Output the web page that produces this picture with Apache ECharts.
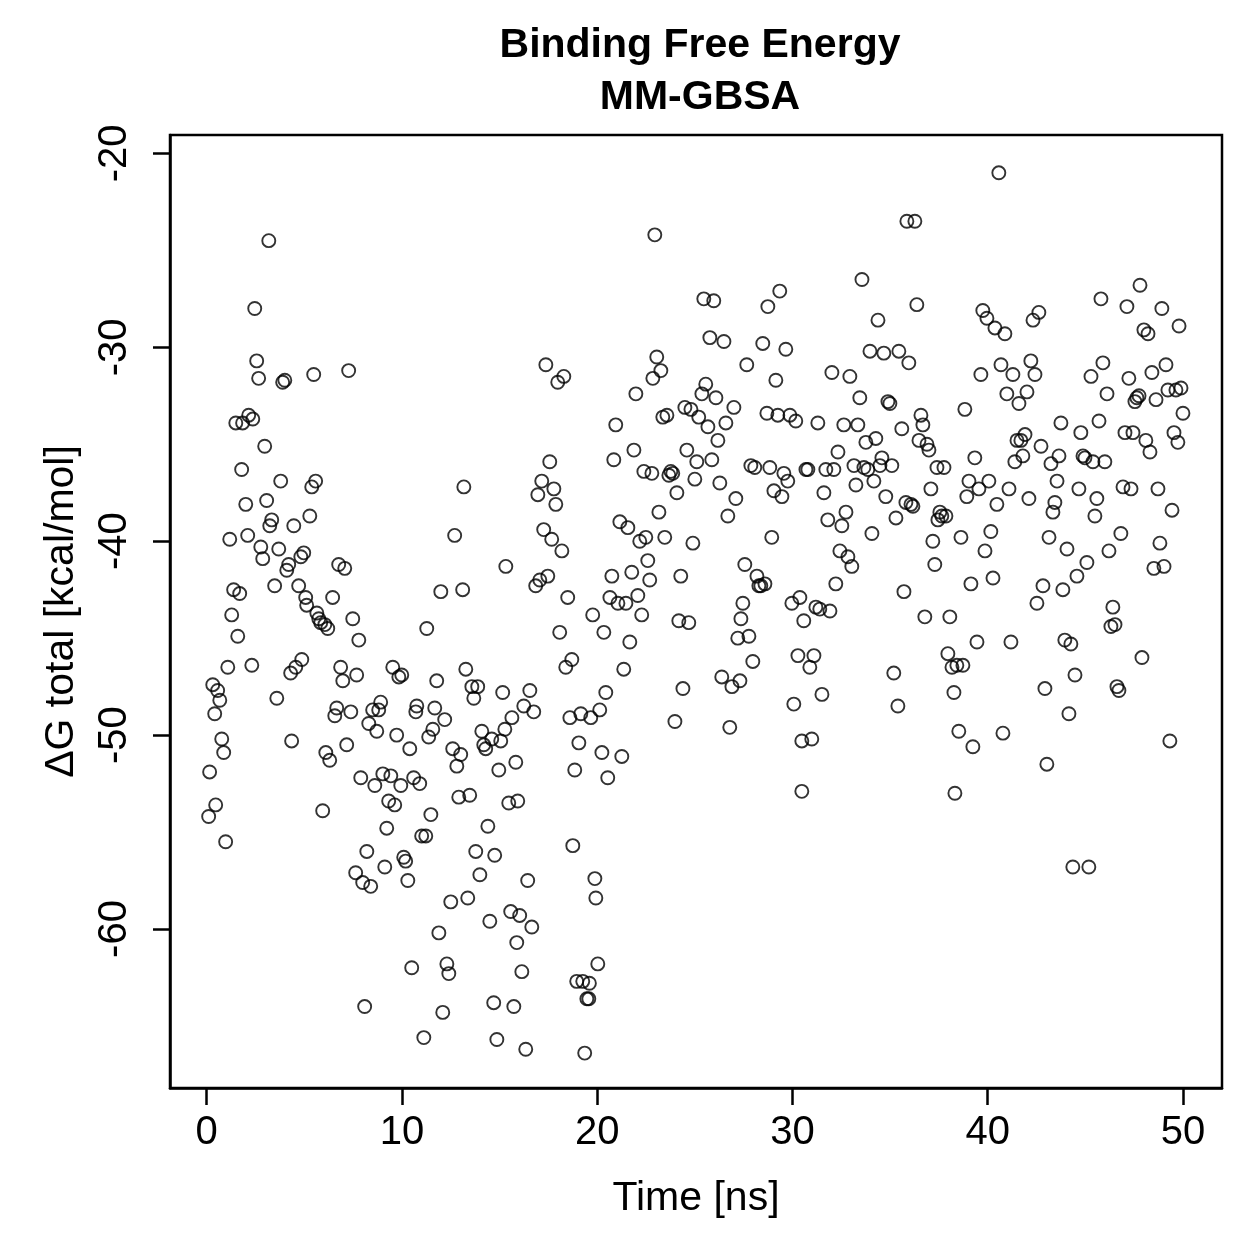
<!DOCTYPE html>
<html>
<head>
<meta charset="utf-8">
<script src="https://cdn.jsdelivr.net/npm/echarts@6/dist/echarts.min.js"></script>
<style>
  html, body { margin: 0; padding: 0; background: #fff; }
  #main { width: 1259px; height: 1259px; }
</style>
</head>
<body>
<div id="main"></div>
<script>
// tick labels
var xTicks = [0, 10, 20, 30, 40, 50];
var yTicks = [-60, -50, -40, -30, -20];

// [time (ns), dG total (kcal/mol)], in 10 ns blocks
var dg0to10 = [
  [0.10,-54.2],[0.15,-51.9],[0.31,-47.4],[0.41,-48.9],[0.46,-53.6],[0.56,-47.7],[0.67,-48.2],[0.77,-50.2],[0.87,-50.9],[0.97,-55.5],
  [1.08,-46.5],[1.18,-39.9],[1.28,-43.8],[1.38,-42.5],[1.49,-33.9],[1.59,-44.9],[1.69,-42.7],[1.79,-36.3],[1.84,-33.9],[2.00,-38.1],
  [2.10,-39.7],[2.15,-33.5],[2.31,-46.4],[2.36,-33.7],[2.46,-28.0],[2.56,-30.7],[2.66,-31.6],[2.77,-40.3],[2.87,-40.9],[2.97,-35.1],
  [3.07,-37.9],[3.18,-24.5],[3.23,-39.2],[3.33,-38.9],[3.48,-42.3],[3.59,-48.1],[3.69,-40.4],[3.79,-36.9],[3.89,-31.8],[4.00,-31.7],
  [4.10,-41.5],[4.20,-41.2],[4.30,-46.8],[4.35,-50.3],[4.46,-39.2],[4.56,-46.5],[4.71,-42.3],[4.82,-40.8],[4.87,-46.1],[4.97,-40.6],
  [5.07,-42.9],[5.12,-43.3],
  [5.28,-38.7],[5.38,-37.2],[5.48,-31.4],[5.58,-36.9],[5.64,-43.7],[5.74,-44.0],[5.84,-44.2],[5.94,-53.9],[6.05,-44.3],[6.10,-50.9],
  [6.20,-44.5],[6.30,-51.3],[6.45,-42.9],[6.56,-49.0],[6.66,-48.6],[6.76,-41.2],[6.86,-46.5],[6.97,-47.2],[7.07,-41.4],[7.17,-50.5],
  [7.27,-31.2],[7.38,-48.8],[7.48,-44.0],[7.63,-57.1],[7.68,-46.9],[7.79,-45.1],[7.89,-52.2],[7.99,-57.6],[8.09,-64.0],[8.20,-56.0],
  [8.30,-49.4],[8.40,-57.8],[8.50,-48.7],[8.61,-52.6],[8.71,-49.8],[8.81,-48.7],[8.91,-48.3],[9.02,-52.0],[9.12,-56.8],[9.22,-54.8],
  [9.32,-53.4],[9.43,-52.1],[9.53,-46.5],[9.63,-53.6],[9.73,-50.0],[9.84,-47.0],[9.94,-52.6],[9.99,-46.9]
];
var dg10to20 = [
  [10.09,-56.3],[10.19,-56.5],[10.30,-57.5],
  [10.40,-50.7],[10.50,-62.0],[10.60,-52.2],[10.71,-48.8],[10.76,-48.5],[10.91,-52.5],[11.01,-55.2],[11.12,-65.6],[11.22,-55.2],[11.27,-44.5],
  [11.37,-50.1],[11.48,-54.1],[11.58,-49.7],[11.68,-48.6],[11.78,-47.2],[11.89,-60.2],[11.99,-42.6],[12.09,-64.3],[12.19,-49.2],[12.30,-61.8],
  [12.40,-62.3],[12.50,-58.6],[12.60,-50.7],[12.70,-39.7],[12.81,-51.6],[12.91,-53.2],[13.01,-51.0],[13.11,-42.5],[13.17,-37.2],[13.27,-46.6],
  [13.37,-58.4],[13.47,-53.1],[13.58,-47.5],[13.68,-48.1],[13.78,-56.0],[13.88,-47.5],[13.99,-57.2],[14.09,-49.8],[14.19,-50.5],[14.29,-50.7],
  [14.40,-54.7],[14.50,-59.6],[14.60,-50.2],[14.70,-63.8],[14.75,-56.2],[14.86,-65.7],[14.96,-51.8],[15.06,-50.3],[15.16,-47.8],[15.27,-49.7],
  [15.32,-41.3],[15.47,-53.5],[15.57,-59.1],[15.63,-49.1],[15.73,-64.0],[15.83,-51.4],[15.88,-60.7],[15.93,-53.4],[16.03,-59.3],[16.14,-62.2],
  [16.24,-48.5],[16.34,-66.2],[16.44,-57.5],[16.55,-47.7],[16.65,-59.9],[16.75,-48.8],[16.85,-42.3],[16.96,-37.6],[17.06,-42.0],[17.16,-36.9],
  [17.26,-39.4],[17.37,-30.9],[17.47,-41.8],[17.57,-35.9],[17.67,-39.9],[17.78,-37.3],[17.88,-38.1],[17.98,-31.8],[18.08,-44.7],[18.19,-40.5],
  [18.29,-31.5],[18.39,-46.5],[18.49,-42.9],[18.60,-49.1],[18.70,-46.1],[18.75,-55.7],[18.85,-51.8],[18.95,-62.7],[19.06,-50.4],[19.16,-48.9],
  [19.26,-62.7],[19.36,-66.4],[19.47,-63.6],[19.57,-63.6],[19.60,-62.8],[19.67,-49.1],[19.77,-43.8],[19.88,-57.4],[19.93,-58.4]
];
var dg20to30 = [
  [20.03,-61.8],[20.13,-48.7],[20.24,-50.9],
  [20.34,-44.7],[20.44,-47.8],[20.54,-52.2],[20.65,-42.9],[20.75,-41.8],[20.85,-35.8],[20.95,-34.0],[21.06,-43.2],[21.16,-39.0],[21.26,-51.1],
  [21.36,-46.6],[21.47,-43.2],[21.57,-39.3],[21.67,-45.2],[21.77,-41.6],[21.88,-35.3],[21.98,-32.4],[22.08,-42.8],[22.18,-40.0],[22.28,-43.8],
  [22.39,-36.4],[22.49,-39.8],[22.59,-41.0],[22.69,-42.0],[22.80,-36.5],[22.85,-31.6],[22.95,-24.2],[23.05,-30.5],[23.16,-38.5],[23.26,-31.2],
  [23.36,-33.6],[23.46,-39.8],[23.57,-33.5],[23.67,-36.6],[23.77,-36.4],[23.87,-36.5],[23.98,-49.3],[24.08,-37.5],[24.18,-44.1],[24.28,-41.8],
  [24.39,-47.6],[24.49,-33.1],[24.59,-35.3],[24.69,-44.2],[24.80,-33.2],[24.90,-40.1],[25.00,-36.8],[25.10,-35.9],[25.20,-33.6],
  [25.36,-32.4],[25.46,-27.5],[25.56,-31.9],[25.67,-34.1],[25.77,-29.5],[25.87,-35.8],[25.97,-27.6],[26.08,-32.6],[26.18,-34.8],[26.28,-37.0],
  [26.38,-47.0],[26.49,-29.7],[26.59,-33.9],[26.69,-38.7],[26.79,-49.6],[26.90,-47.5],[27.00,-33.1],[27.10,-37.8],[27.20,-45.0],[27.31,-47.2],
  [27.36,-44.0],[27.46,-43.2],[27.56,-41.2],[27.66,-30.9],[27.77,-44.9],[27.87,-36.1],[27.97,-46.2],[28.07,-36.2],[28.18,-41.8],[28.28,-42.3],
  [28.38,-42.3],[28.48,-29.8],[28.59,-42.2],[28.69,-33.4],[28.74,-27.9],[28.84,-36.2],[28.94,-39.8],[29.05,-37.4],[29.15,-31.7],[29.25,-33.5],
  [29.35,-27.1],[29.46,-37.7],[29.56,-36.5],[29.66,-30.1],[29.76,-36.9],[29.87,-33.5],[29.97,-43.2]
];
var dg30to40 = [
  [30.07,-48.4],[30.17,-33.8],[30.28,-45.9],
  [30.38,-42.9],[30.48,-50.3],[30.48,-52.9],[30.58,-44.1],[30.69,-36.3],[30.79,-36.3],[30.89,-46.5],[30.99,-50.2],[31.10,-45.9],[31.20,-43.4],
  [31.30,-33.9],[31.40,-43.5],[31.51,-47.9],[31.61,-37.5],[31.71,-36.3],[31.81,-38.9],[31.92,-43.6],[32.02,-31.3],[32.12,-36.3],[32.22,-42.2],
  [32.33,-35.4],[32.43,-40.5],[32.53,-39.2],[32.63,-34.0],[32.74,-38.5],[32.84,-40.8],[32.94,-31.5],[33.04,-41.3],[33.15,-36.1],[33.25,-37.1],
  [33.35,-34.0],[33.45,-32.6],[33.56,-26.5],[33.66,-36.2],[33.76,-34.9],[33.86,-36.3],[33.97,-30.2],[34.07,-39.6],[34.17,-36.9],[34.27,-34.7],
  [34.38,-28.6],[34.48,-36.1],[34.58,-35.7],[34.68,-30.3],[34.78,-37.7],[34.89,-32.8],[34.99,-32.9],[35.09,-36.1],[35.19,-46.8],[35.30,-38.8],
  [35.40,-48.5],[35.45,-30.2],
  [35.60,-34.2],[35.71,-42.6],[35.81,-38.0],[35.86,-23.5],[35.96,-30.8],[36.07,-38.1],[36.17,-38.2],[36.27,-23.5],[36.37,-27.8],[36.48,-34.8],
  [36.58,-33.5],[36.68,-34.0],[36.78,-43.9],[36.89,-35.0],[36.99,-35.3],[37.09,-37.3],[37.19,-40.0],[37.29,-41.2],[37.40,-36.2],[37.45,-38.9],
  [37.55,-38.5],[37.65,-38.7],[37.76,-36.2],[37.86,-38.7],[37.96,-45.8],[38.06,-43.9],[38.17,-46.5],[38.27,-47.8],[38.32,-53.0],[38.42,-46.4],
  [38.52,-49.8],[38.63,-39.8],[38.73,-46.4],[38.83,-33.2],[38.93,-37.7],[39.04,-36.9],[39.14,-42.2],[39.24,-50.6],[39.34,-35.7],[39.45,-45.2],
  [39.55,-37.3],[39.65,-31.4],[39.75,-28.1],[39.86,-40.5],[39.96,-28.5]
];
var dg40to50 = [
  [40.06,-36.9],[40.16,-39.5],[40.27,-41.9],[40.37,-29.0],[40.47,-38.1],[40.57,-21.0],
  [40.68,-30.9],[40.78,-49.9],[40.88,-29.3],[40.98,-32.4],[41.09,-37.3],[41.19,-45.2],[41.29,-31.4],[41.39,-35.9],[41.50,-34.8],[41.60,-32.9],
  [41.70,-34.8],[41.80,-35.6],[41.91,-34.5],[42.01,-32.3],[42.11,-37.8],[42.21,-30.7],[42.32,-28.6],[42.42,-31.4],[42.52,-43.2],[42.62,-28.2],
  [42.73,-35.1],[42.83,-42.3],[42.93,-47.6],[43.03,-51.5],[43.14,-39.8],[43.24,-36.0],[43.34,-38.5],[43.44,-38.0],[43.55,-36.9],[43.65,-35.6],
  [43.75,-33.9],[43.85,-42.5],[43.95,-45.1],[44.06,-40.4],[44.16,-48.9],[44.26,-45.3],[44.36,-56.8],[44.47,-46.9],[44.57,-41.8],[44.67,-37.3],
  [44.77,-34.4],[44.88,-35.6],[44.98,-35.7],[45.08,-41.1],[45.18,-56.8],[45.29,-31.5],[45.39,-35.9],[45.49,-38.7],[45.59,-37.8],[45.70,-33.8],
  [45.80,-27.5],[45.90,-30.8],[46.00,-35.9],[46.11,-32.4],[46.21,-40.5],[46.31,-44.4],[46.41,-43.4],[46.52,-44.3],[46.62,-47.5],[46.72,-47.7],
  [46.82,-39.6],[46.93,-37.2],[47.03,-34.4],[47.13,-27.9],[47.23,-31.6],[47.34,-37.3],[47.44,-34.4],[47.54,-32.8],[47.64,-32.6],[47.75,-32.5],
  [47.80,-26.8],[47.90,-46.0],[48.00,-29.1],[48.10,-34.8],[48.21,-29.3],[48.31,-35.4],[48.41,-31.3],[48.51,-41.4],[48.62,-32.7],[48.72,-37.3],
  [48.82,-40.1],[48.92,-28.0],[49.03,-41.3],[49.13,-30.9],[49.23,-32.2],[49.33,-50.3],[49.44,-38.4],[49.54,-34.4],[49.64,-32.2],[49.74,-34.9],
  [49.80,-28.9],[49.90,-32.1],[50.00,-33.4]
];

// MM-GBSA 散点图
(function () {
  var myChart = echarts.init(document.getElementById('main'));
  var font = '"Liberation Sans", Arial, Helvetica, sans-serif';
  var points = dg0to10.concat(dg10to20, dg20to30, dg30to40, dg40to50);

  var option = {
    backgroundColor: '#fff',
    animation: false,
    title: {
      text: 'Binding Free Energy\nMM-GBSA',
      left: 695,
      top: 15,
      textAlign: 'center',
      textStyle: {
        fontFamily: font,
        fontSize: 41,
        fontWeight: 'bold',
        lineHeight: 52,
        color: '#000'
      }
    },
    grid: {
      left: 170,
      right: 37,
      top: 135,
      bottom: 171,
      show: true,
      borderColor: '#000',
      borderWidth: 2.5,
      backgroundColor: 'transparent'
    },
    xAxis: {
      type: 'value',
      min: -1.88,
      max: 52,
      name: 'Time [ns]',
      nameLocation: 'middle',
      nameGap: 90,
      nameTextStyle: { fontFamily: font, fontSize: 41, color: '#000' },
      axisLine: { show: true, onZero: false, lineStyle: { color: '#000', width: 2.5 } },
      axisTick: { show: true, length: 17, customValues: xTicks, lineStyle: { color: '#000', width: 2.5 } },
      axisLabel: { customValues: xTicks, margin: 25, fontFamily: font, fontSize: 40, color: '#000' },
      splitLine: { show: false }
    },
    yAxis: {
      type: 'value',
      min: -68.2,
      max: -19.05,
      name: 'ΔG total [kcal/mol]',
      nameLocation: 'middle',
      nameGap: 88,
      nameTextStyle: { fontFamily: font, fontSize: 41, color: '#000' },
      axisLine: { show: true, onZero: false, lineStyle: { color: '#000', width: 2.5 } },
      axisTick: { show: true, length: 17, customValues: yTicks, lineStyle: { color: '#000', width: 2.5 } },
      axisLabel: { customValues: yTicks, rotate: 90, margin: 35, fontFamily: font, fontSize: 40, color: '#000' },
      splitLine: { show: false }
    },
    series: [{
      name: 'dG total',
      type: 'scatter',
      data: points,
      symbol: 'circle',
      symbolSize: 13,
      silent: true,
      itemStyle: { color: 'rgba(0,0,0,0)', borderColor: '#000', borderWidth: 1.9 }
    }]
  };

  myChart.setOption(option);
  window.addEventListener('resize', function () {
    myChart.resize();
  });
})();
</script>
</body>
</html>
